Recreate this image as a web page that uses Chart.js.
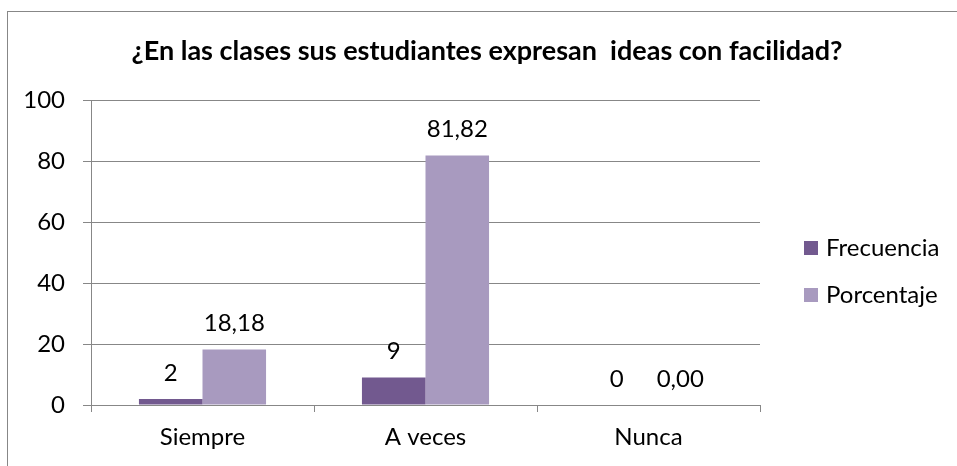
<!DOCTYPE html>
<html>
<head>
<meta charset="utf-8">
<script src="https://cdn.jsdelivr.net/npm/chart.js@4"></script>
<style>
  html, body { margin: 0; padding: 0; background: #fff; }
  #wrap { position: relative; width: 957px; height: 466px; overflow: hidden; }
  #frame { position: absolute; left: 7px; top: 11px; width: 1200px; height: 1200px; border: 1px solid #878787; box-sizing: border-box; }
  canvas { position: absolute; left: 0; top: 0; }
</style>
</head>
<body>
<div id="wrap">
  <div id="frame"></div>
  <canvas id="c" width="957" height="466"></canvas>
</div>
<script>
const titleText = "¿En las clases sus estudiantes expresan  ideas con facilidad?";
const categories = ["Siempre", "A veces", "Nunca"];
const seriesNames = ["Frecuencia", "Porcentaje"];
const frecuencia = [2, 9, 0];
const porcentaje = [18.18, 81.82, 0.00];
const yTicks = [0, 20, 40, 60, 80, 100];
const seriesColors = ["#72598F", "#A89ABF"];

const FONT = "Lato";
const GRID = "#878787";

const fmt = [v => String(Math.round(v)), v => v.toFixed(2).replace(".", ",")];

const dataLabels = {
  id: "dataLabels",
  afterDatasetsDraw(chart) {
    const ctx = chart.ctx;
    ctx.save();
    ctx.font = "24px " + FONT;
    ctx.fillStyle = "#000";
    ctx.textAlign = "center";
    ctx.textBaseline = "middle";
    chart.data.datasets.forEach((ds, di) => {
      const meta = chart.getDatasetMeta(di);
      meta.data.forEach((el, i) => {
        ctx.fillText(fmt[di](ds.data[i]), el.x, el.y - 26);
      });
    });
    ctx.restore();
  }
};

const sideLegend = {
  id: "sideLegend",
  afterDraw(chart) {
    const ctx = chart.ctx;
    ctx.save();
    ctx.font = "24px " + FONT;
    ctx.textBaseline = "middle";
    ctx.textAlign = "left";
    const x0 = chart.chartArea.right + 44;
    const ys = [248, 295];
    chart.data.datasets.forEach((ds, i) => {
      ctx.fillStyle = ds.backgroundColor;
      ctx.fillRect(x0, ys[i] - 7, 14, 14);
      ctx.fillStyle = "#000";
      ctx.fillText(ds.label, x0 + 22, ys[i]);
    });
    ctx.restore();
  }
};

new Chart(document.getElementById("c"), {
  type: "bar",
  data: {
    labels: categories,
    datasets: [
      { label: seriesNames[0], data: frecuencia, backgroundColor: seriesColors[0] },
      { label: seriesNames[1], data: porcentaje, backgroundColor: seriesColors[1] }
    ]
  },
  options: {
    responsive: false,
    animation: false,
    devicePixelRatio: 1,
    layout: { padding: { left: 17, right: 0, top: 0, bottom: 0 } },
    datasets: { bar: { categoryPercentage: 0.57, barPercentage: 1.0 } },
    plugins: {
      legend: { display: false },
      tooltip: { enabled: false },
      title: {
        display: true,
        text: titleText,
        color: "#000",
        font: { family: FONT, size: 27, weight: "bold" },
        padding: { top: 35, bottom: 32.6 }
      }
    },
    scales: {
      x: {
        offset: true,
        grid: { display: true, offset: true, drawOnChartArea: false, drawTicks: true, tickLength: 7, color: GRID },
        border: { display: true, color: GRID },
        ticks: { color: "#000", font: { family: FONT, size: 24 }, padding: 11, maxRotation: 0 },
        afterFit(s) { s.height = 61; }
      },
      y: {
        min: 0, max: 100,
        afterBuildTicks(s) { s.ticks = yTicks.map(v => ({ value: v })); },
        grid: { color: GRID, drawTicks: true, tickLength: 8 },
        border: { display: true, color: GRID },
        ticks: { color: "#000", font: { family: FONT, size: 24 }, padding: 18 },
        afterFit(s) { s.width = 74; }
      },
      legendSpace: {
        type: "linear",
        position: "right",
        display: true,
        grid: { display: false },
        border: { display: false },
        ticks: { display: false },
        afterFit(s) { s.width = 197; }
      }
    }
  },
  plugins: [dataLabels, sideLegend]
});
</script>
</body>
</html>
